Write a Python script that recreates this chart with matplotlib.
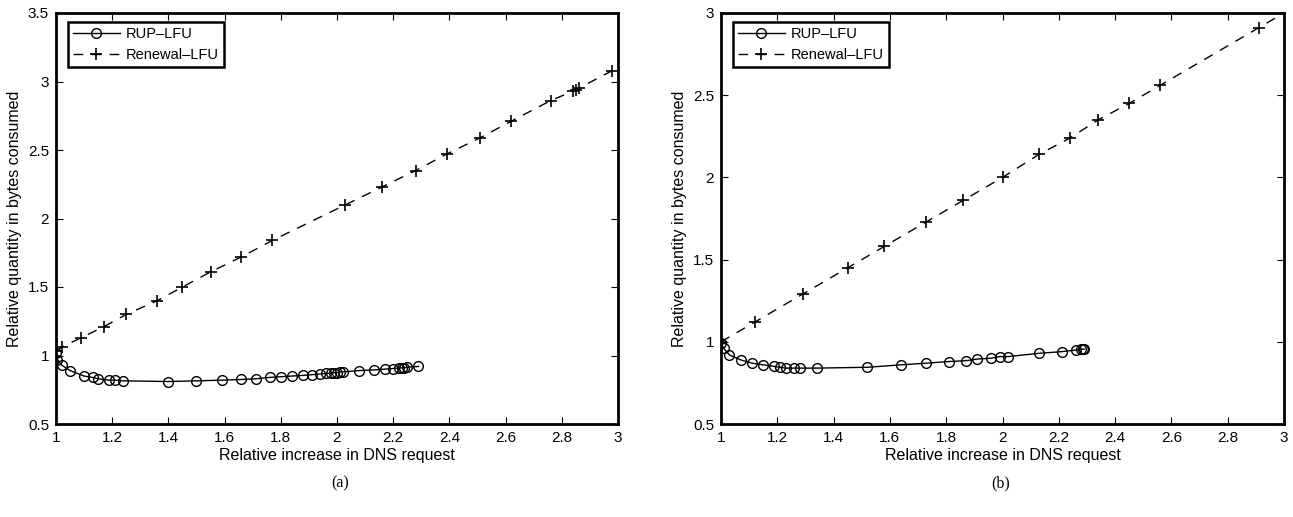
import numpy as np
import matplotlib
matplotlib.use("Agg")
import matplotlib.pyplot as plt

# --- data
# panel (a)
rup_a_x = [1.0, 1.005, 1.02, 1.05, 1.10, 1.13, 1.15, 1.19, 1.21, 1.24, 1.40, 1.50,
           1.59, 1.66, 1.71, 1.76, 1.80, 1.84, 1.88, 1.91, 1.94, 1.96, 1.98, 1.99,
           2.00, 2.01, 2.02, 2.08, 2.13, 2.17, 2.20, 2.22, 2.23, 2.24, 2.25, 2.29]
rup_a_y = [1.02, 0.97, 0.93, 0.89, 0.85, 0.84, 0.83, 0.82, 0.82, 0.815, 0.81, 0.815,
           0.82, 0.825, 0.83, 0.84, 0.845, 0.85, 0.855, 0.86, 0.865, 0.87, 0.87, 0.875,
           0.875, 0.88, 0.88, 0.89, 0.895, 0.90, 0.905, 0.91, 0.91, 0.91, 0.915, 0.92]
ren_a_x = [1.0, 1.02, 1.09, 1.17, 1.25, 1.36, 1.45, 1.55, 1.66, 1.77, 2.03, 2.16,
           2.28, 2.39, 2.51, 2.62, 2.76, 2.84, 2.85, 2.86, 2.98]
ren_a_y = [1.03, 1.06, 1.13, 1.21, 1.30, 1.40, 1.50, 1.61, 1.72, 1.84, 2.10, 2.23,
           2.35, 2.47, 2.59, 2.71, 2.86, 2.93, 2.94, 2.95, 3.08]

# panel (b)
rup_b_x = [1.0, 1.01, 1.03, 1.07, 1.11, 1.15, 1.19, 1.21, 1.23, 1.26, 1.28, 1.34,
           1.52, 1.64, 1.73, 1.81, 1.87, 1.91, 1.96, 1.99, 2.02, 2.13, 2.21, 2.26,
           2.28, 2.285, 2.29]
rup_b_y = [0.99, 0.96, 0.92, 0.89, 0.87, 0.86, 0.85, 0.845, 0.84, 0.84, 0.84, 0.84,
           0.845, 0.86, 0.87, 0.88, 0.885, 0.895, 0.90, 0.91, 0.91, 0.93, 0.94, 0.95,
           0.955, 0.955, 0.955]
ren_b_x = [1.0, 1.12, 1.29, 1.45, 1.58, 1.73, 1.86, 2.0, 2.13, 2.24, 2.34, 2.45,
           2.56, 2.91, 3.2]
ren_b_y = [1.0, 1.12, 1.29, 1.45, 1.58, 1.73, 1.86, 2.0, 2.14, 2.24, 2.35, 2.45,
           2.56, 2.91, 3.2]

xticks = [1, 1.2, 1.4, 1.6, 1.8, 2, 2.2, 2.4, 2.6, 2.8, 3]
xticklabels = ["1", "1.2", "1.4", "1.6", "1.8", "2", "2.2", "2.4", "2.6", "2.8", "3"]

plt.rcParams["font.family"] = ["Liberation Sans", "DejaVu Sans"]
plt.rcParams["font.size"] = 11

W, H = 1293, 517
fig = plt.figure(figsize=(W / 100, H / 100), dpi=100)
ax_a = fig.add_axes([56 / W, 93 / H, 562 / W, 411 / H])
ax_b = fig.add_axes([721 / W, 93 / H, 563 / W, 411 / H])


def draw_panel(ax, rx, ry, nx, ny, ylims, yticks, yticklabels):
    ax.plot(rx, ry, "-", color="black", lw=1.0, marker="o", ms=7,
            mfc="none", mec="black", mew=1.0, label="RUP\u2013LFU")
    ax.plot(nx, ny, "--", color="black", lw=1.0, marker="+", ms=8,
            mew=1.2, label="Renewal\u2013LFU", dashes=(7, 6))
    ax.set_xlim(1, 3)
    ax.set_ylim(*ylims)
    ax.set_xticks(xticks)
    ax.set_xticklabels(xticklabels)
    ax.set_yticks(yticks)
    ax.set_yticklabels(yticklabels)
    ax.tick_params(direction="in", top=True, right=True, length=5, width=0.8,
                   pad=5, labelsize=11)
    for s in ax.spines.values():
        s.set_linewidth(2.0)
    ax.set_xlabel("Relative increase in DNS request", labelpad=2, fontsize=11.5)
    ax.set_ylabel("Relative quantity in bytes consumed", labelpad=4, fontsize=11.5)
    leg = ax.legend(loc="upper left", fancybox=False, edgecolor="black",
                    framealpha=1, borderpad=0.35, handlelength=3.2,
                    handletextpad=0.4, labelspacing=0.45, borderaxespad=0,
                    fontsize=10.5, bbox_to_anchor=(0.0214, 0.978))
    leg.get_frame().set_linewidth(1.8)


draw_panel(ax_a, rup_a_x, rup_a_y, ren_a_x, ren_a_y, (0.5, 3.5),
           [0.5, 1, 1.5, 2, 2.5, 3, 3.5], ["0.5", "1", "1.5", "2", "2.5", "3", "3.5"])
draw_panel(ax_b, rup_b_x, rup_b_y, ren_b_x, ren_b_y, (0.5, 3),
           [0.5, 1, 1.5, 2, 2.5, 3], ["0.5", "1", "1.5", "2", "2.5", "3"])

fig.text(340 / W, 1 - 483 / H, "(a)", ha="center", va="center",
         family="Liberation Serif", fontsize=11.5)
fig.text(1001 / W, 1 - 483 / H, "(b)", ha="center", va="center",
         family="Liberation Serif", fontsize=11.5)

fig.savefig("out.png", dpi=100)
